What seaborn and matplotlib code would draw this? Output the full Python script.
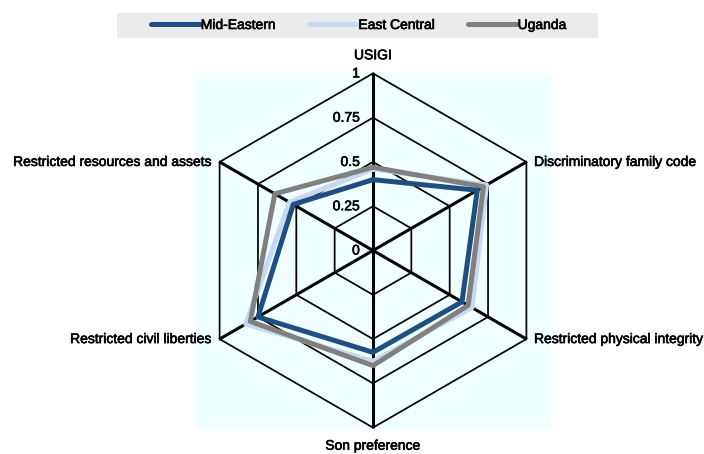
import numpy as np
import pandas as pd
import matplotlib
matplotlib.use("Agg")
import matplotlib.pyplot as plt
import matplotlib.patheffects as pe
from matplotlib.patches import Rectangle
from matplotlib.lines import Line2D
import seaborn as sns

# Data
categories = ["USIGI", "Discriminatory family code", "Restricted physical integrity",
              "Son preference", "Restricted civil liberties", "Restricted resources and assets"]
mid_eastern = [0.40, 0.68, 0.58, 0.575, 0.75, 0.52]
east_central = [0.46, 0.74, 0.645, 0.625, 0.83, 0.545]
uganda = [0.47, 0.72, 0.62, 0.65, 0.80, 0.64]
series_names = ["Mid-Eastern", "East Central", "Uganda"]
tick_values = [0, 0.25, 0.5, 0.75, 1]
tick_labels = ["0", "0.25", "0.5", "0.75", "1"]

colors = {"Mid-Eastern": "#1f4e82", "East Central": "#c6d9f0", "Uganda": "#808080"}

sns.set_theme(style="white")
plt.rcParams["font.family"] = ["Liberation Sans", "DejaVu Sans"]
plt.rcParams["font.size"] = 10
plt.rcParams["text.color"] = "black"
FS = 10
bold = [pe.withStroke(linewidth=0.45, foreground="black")]

W, H = 704, 454
fig = plt.figure(figsize=(W / 100, H / 100), dpi=100)

# square plot area (light cyan) behind the radar
cx, cy, half = 373, 250.5, 178
pos = [(cx - half) / W, 1 - (cy + half) / H, 2 * half / W, 2 * half / H]
bg = fig.add_axes(pos)
bg.set_facecolor("#f0ffff")
bg.set_xticks([])
bg.set_yticks([])
for s in bg.spines.values():
    s.set_visible(False)

ax = fig.add_axes(pos, projection="polar")
ax.patch.set_alpha(0)
ax.set_theta_zero_location("N")
ax.set_theta_direction(-1)
ax.set_ylim(0, 1.005)
ax.grid(False)
ax.spines["polar"].set_visible(False)

n = len(categories)
angles = np.arange(n) * 2 * np.pi / n
closed = np.append(angles, angles[0])

# hexagonal grid
for r in tick_values[1:]:
    ax.plot(closed, [r] * (n + 1), color="black", lw=1.25, zorder=1)
for a in angles:
    ax.plot([a, a], [0, 1], color="black", lw=2.2, zorder=1)

# series
rows = []
for name, vals in zip(series_names, [mid_eastern, east_central, uganda]):
    for t, v in zip(closed, vals + vals[:1]):
        rows.append({"theta": t, "value": v, "series": name})
df = pd.DataFrame(rows)

draw_order = ["East Central", "Uganda", "Mid-Eastern"]
sns.lineplot(data=df, x="theta", y="value", hue="series", hue_order=draw_order,
             palette=colors, sort=False, estimator=None, lw=3.6, ax=ax,
             legend=False, zorder=3)
ax.set_xlabel("")
ax.set_ylabel("")
ax.set_xticks([])
ax.set_yticks([])

# tick labels along the vertical spoke
for v, lab in zip(tick_values, tick_labels):
    ax.annotate(lab, xy=(0, v), xytext=(-9.5, 0), textcoords="offset points",
                ha="right", va="center", fontsize=FS, zorder=4, path_effects=bold)

# category labels
offsets = [(0, 8, "center", "bottom"), (5.5, 0, "left", "center"), (5.5, 0, "left", "center"),
           (0, -8, "center", "top"), (-5.5, 0, "right", "center"), (-5.5, 0, "right", "center")]
for a, lab, (dx, dy, ha, va) in zip(angles, categories, offsets):
    ax.annotate(lab, xy=(a, 1), xytext=(dx, dy), textcoords="offset points",
                ha=ha, va=va, fontsize=FS, annotation_clip=False, path_effects=bold)

# legend with grey band
fig.add_artist(Rectangle((117 / W, 1 - 38 / H), 481 / W, 25 / H,
                         transform=fig.transFigure, facecolor="#ebebeb",
                         edgecolor="none", zorder=0))
handles = [Line2D([0], [0], color=colors[s], lw=3.6) for s in series_names]
leg = fig.legend(handles, series_names, loc="center", bbox_to_anchor=(359 / W, 1 - 25 / H),
                 ncol=3, frameon=False, fontsize=FS, handlelength=3.5,
                 handletextpad=0.05, columnspacing=2.4, borderpad=0)
for t in leg.get_texts():
    t.set_path_effects(bold)

fig.savefig("out.png", dpi=100)
